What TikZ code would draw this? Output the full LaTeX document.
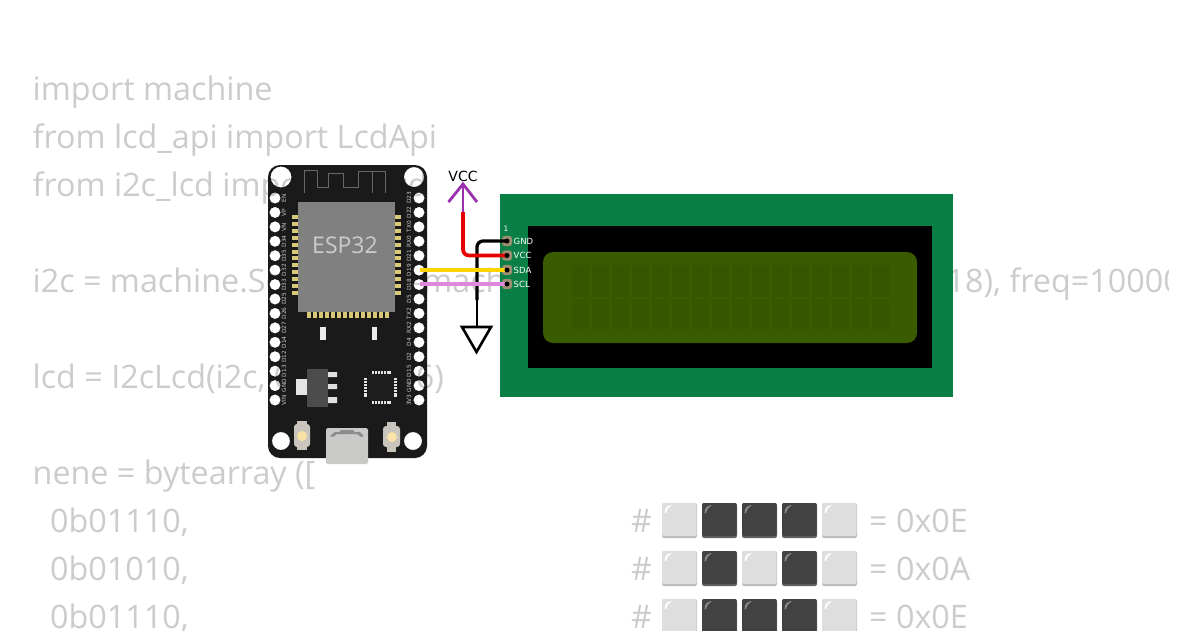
\documentclass[tikz,border=0pt]{standalone}
\usepackage{fontspec}
\setmainfont{Open Sans}
\newfontfamily\labelfont{DejaVu Sans}
\definecolor{codegrey}{HTML}{CCCCCC}
\definecolor{boardblack}{HTML}{1A1A1A}
\definecolor{chipgrey}{HTML}{808080}
\definecolor{padgold}{HTML}{D8C87A}
\definecolor{pcbgreen}{HTML}{0A7F45}
\definecolor{lcdolive}{HTML}{3A5C00}
\definecolor{lcdcell}{HTML}{365600}
\definecolor{headertan}{HTML}{9C8E70}
\definecolor{wirered}{HTML}{E60000}
\definecolor{wireyellow}{HTML}{FFD400}
\definecolor{wireplum}{HTML}{DD88DD}
\definecolor{wirepurple}{HTML}{9A2FB0}
\definecolor{keylight}{HTML}{DEDEDE}
\definecolor{keylightedge}{HTML}{BBBBBB}
\definecolor{keylighthi}{HTML}{FFFFFF}
\definecolor{keydark}{HTML}{424242}
\definecolor{keydarkedge}{HTML}{606060}
\definecolor{keydarkhi}{HTML}{8A8A8A}
\definecolor{usbgrey}{HTML}{C9C9C7}
\definecolor{btnbody}{HTML}{C9C5BD}
\definecolor{btnyellow}{HTML}{FAE2A6}
\tikzset{
  codeline/.style={anchor=base west,inner sep=0pt,text=codegrey,font=\fontsize{32.3}{32.3}\selectfont},
  pinlabel/.style={rotate=90,inner sep=0pt,text=white!78!black,font=\labelfont\fontsize{5.8}{5.8}\selectfont},
  headerlabel/.style={anchor=west,inner sep=0pt,text height=6pt,text depth=0pt,text=white,font=\labelfont\fontsize{8.5}{8.5}\selectfont},
  wire/.style={line width=3.7pt,rounded corners=6pt}
}
\newcommand{\keycap}[3]{% x, y, kind
  \fill[key#3edge,rounded corners=2pt] (#1,#2) rectangle ++(35,35);
  \fill[key#3,rounded corners=2pt] (#1,#2) rectangle ++(34.5,33);
  \fill[key#3hi] (#1+2.5,#2+10) .. controls (#1+2.5,#2+5) and (#1+5,#2+2.5) .. (#1+10,#2+2) .. controls (#1+7,#2+4) and (#1+5,#2+6) .. (#1+4,#2+10) -- cycle;
}
\newcommand{\keyrow}[6]{% y, five kinds
  \keycap{662}{#1}{#2}
  \keycap{702}{#1}{#3}
  \keycap{742}{#1}{#4}
  \keycap{782}{#1}{#5}
  \keycap{822}{#1}{#6}
}
\begin{document}
\begin{tikzpicture}[x=1pt,y=-1pt]
\useasboundingbox (0,0) rectangle (1200,630);
\fill[white] (0,0) rectangle (1200,630);
% code text
\begin{scope}
\clip (0,0) rectangle (1168,630);
\node[codeline] (c1) at (32.5,100) {import machine};
\node[codeline] (c2) at (32.5,148) {from lcd\_api import LcdApi};
\node[codeline] (c3) at (32.5,196) {from i2c\_lcd import I2cLcd};
\node[codeline] (c4) at (32.5,292) {i2c = machine.SoftI2C(scl=machine.Pin(19), sda=machine.Pin(18), freq=10000};
\node[codeline] (c5) at (32.5,388) {lcd = I2cLcd(i2c, 0x27, 2, 16)};
\node[codeline] (c6) at (32.5,484) {nene = bytearray ([};
\node[codeline] (c7) at (50,532) {0b01110,};
\node[codeline] (c8) at (50,580) {0b01010,};
\node[codeline] (c9) at (50,628) {0b01110,};
\node[codeline] (h1) at (631,532) {\#};
\node[codeline] (h2) at (631,580) {\#};
\node[codeline] (h3) at (631,628) {\#};
\node[codeline] (v1) at (869,532) {= 0x0E};
\node[codeline] (v2) at (869,580) {= 0x0A};
\node[codeline] (v3) at (869,628) {= 0x0E};
\end{scope}
\keyrow{503}{light}{dark}{dark}{dark}{light}
\keyrow{551}{light}{dark}{light}{dark}{light}
\keyrow{599}{light}{dark}{dark}{dark}{light}
% ESP32 board, its holes open onto what lies behind
\fill[boardblack,even odd rule]
  [rounded corners=12pt] (268,165) rectangle (427,458)
  [sharp corners] (281,177) circle (10.5) (414,177) circle (10) (281,441) circle (9) (413,441) circle (9)
  \foreach \i in {0,...,14} { (275,198+\i*14.43) circle (5.6) (419,198+\i*14.43) circle (5.6) };
\draw[chipgrey!80!black,line width=.9pt] (304,193) -- (304,170) -- (317,170) -- (317,187) -- (328,187) -- (328,173) -- (343,173) -- (343,187) -- (358,187) -- (358,171) -- (372,171) -- (372,193) (385,171) -- (385,193) (358,171) -- (385,171);
% chip pads
\foreach \i in {0,...,11} {
  \fill[padgold] (292,217+\i*6.9-2) rectangle (298,217+\i*6.9+2);
  \fill[padgold] (395,217+\i*6.9-2) rectangle (401,217+\i*6.9+2);
}
\foreach \i in {0,...,13} {
  \fill[padgold] (308.5+\i*6.0-2,312) rectangle (308.5+\i*6.0+2,318);
}
\fill[chipgrey] (298,202) rectangle (395,312);
\node[inner sep=0pt,text=white!80!black,font=\fontsize{23}{23}\selectfont] (esp) at (345,245) {ESP32};
% pin labels
\foreach \i/\lab/\rab in {0/EN/D23,1/VP/D22,2/VN/TX0,3/D34/RX0,4/D35/D21,5/D32/D19,6/D33/D18,7/D25/D5,8/D26/TX2,9/D27/RX2,10/D14/D4,11/D12/D2,12/D13/D15,13/GND/GND,14/VIN/3V3} {
  \node[pinlabel] (L\i) at (284,198+\i*14.43) {\lab};
  \node[pinlabel] (R\i) at (409,198+\i*14.43) {\rab};
}
% small parts
\fill[white!92!black] (320,327) rectangle (326,340);
\fill[white!92!black] (372,327) rectangle (377,340);
\fill[white!90!black] (296,379) rectangle (307,395);
\fill[white!88!black] (328,372) rectangle (337,377) (328,384) rectangle (337,389) (328,397) rectangle (337,403);
\fill[black!70] (307,369) rectangle (328,407);
\fill[black!88] (368,375) rectangle (393,400);
\foreach \i in {0,...,6} {
  \fill[white!90!black] (372+\i*2.9,371) rectangle +(2,3);
  \fill[white!90!black] (372+\i*2.9,401) rectangle +(2,3);
  \fill[white!90!black] (364,378+\i*2.9) rectangle +(3,2);
  \fill[white!90!black] (394,378+\i*2.9) rectangle +(3,2);
}
% buttons
\fill[btnbody,rounded corners=3pt] (294,424) rectangle (310,447);
\fill[btnbody] (297,421) rectangle (307,450);
\fill[btnbody,rounded corners=3pt] (383,426) rectangle (400,447);
\fill[btnbody] (387,422) rectangle (396,452);
\fill[btnyellow] (302,436) circle (5);
\fill[btnyellow] (392,437) circle (5);
% USB
\fill[usbgrey,rounded corners=1.5pt] (326,428) rectangle (368,464);
\fill[black!45] (330,436) -- (335,432) -- (339,432) -- (341,430) -- (353,430) -- (355,432) -- (360,432) -- (364,436) -- (361,437) -- (357,434) -- (337,434) -- (333,437) -- cycle;
% LCD
\fill[pcbgreen] (500,194) rectangle (953,397);
\fill[black] (528,226) rectangle (932,368);
\fill[lcdolive,rounded corners=10pt] (543,252) rectangle (917,343);
\foreach \i in {0,...,15} {
  \fill[lcdcell] (572+\i*20,265) rectangle +(17,32);
  \fill[lcdcell] (572+\i*20,299) rectangle +(17,30);
}
% header
\node[inner sep=0pt,text=white,font=\labelfont\fontsize{7.5}{7.5}\selectfont] (one) at (506,229) {1};
\foreach \n/\y/\t in {gnd/241/GND,vcc/255.5/VCC,sda/270/SDA,scl/284/SCL} {
  \fill[headertan,rounded corners=3pt] (502,\y-5.2) rectangle (512,\y+5.2);
  \coordinate (\n) at (507,\y);
  \node[headerlabel] (lab\n) at (513.5,\y) {\t};
}
% wires
\coordinate (d19) at (420,270);
\coordinate (d18) at (420,284);
\coordinate (vccfoot) at (463,212);
\coordinate (vcctip) at (463,184);
\coordinate (gndmid) at (477,300);
\coordinate (gndtop) at (477,327);
\draw[wire,line width=3.3pt,black] (gnd) -| (gndmid);
\draw[black,line width=1.8pt] (gndmid) -- (gndtop);
\draw[wire,wirered] (vcc) -| (vccfoot);
\draw[wire,wireyellow] (d19) -- (sda);
\draw[wire,wireplum] (d18) -- (scl);
\fill[black] (gnd) circle (2.5) (vcc) circle (2.5) (sda) circle (2.5) (scl) circle (2.5);
\draw[wirepurple,line width=2.8pt] (vccfoot) -- (vcctip);
\draw[wirepurple,line width=2.8pt] (448.5,202) -- (vcctip) -- (477,202);
\node[inner sep=0pt,text=black,font=\labelfont\fontsize{14}{14}\selectfont] (vcclabel) at (463,176) {VCC};
\draw[black,line width=2.6pt] (462,327) -- (491,327) -- (476.5,352) -- cycle;
\end{tikzpicture}
\end{document}
